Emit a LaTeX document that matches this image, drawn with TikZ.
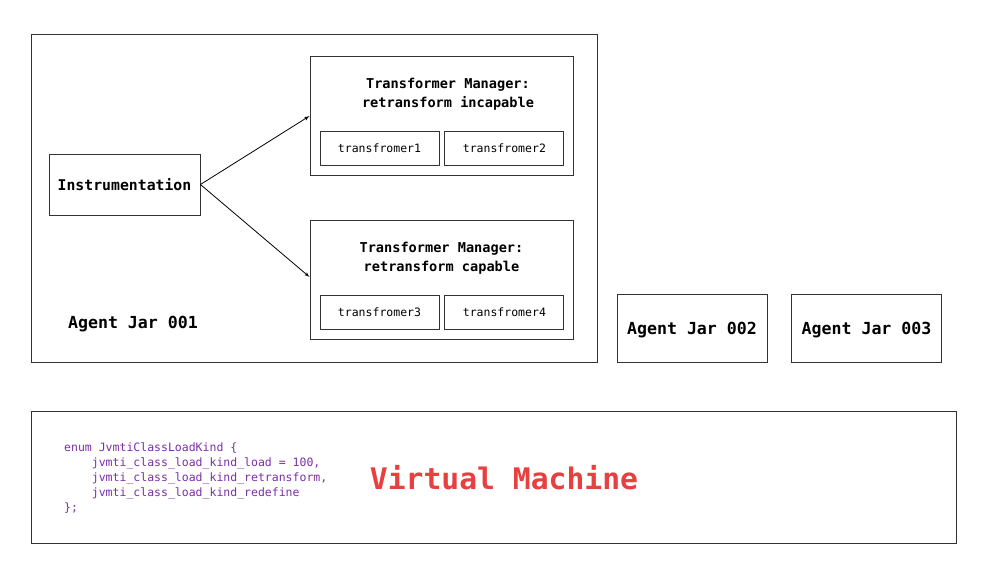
\documentclass[tikz,border=0pt]{standalone}
\usepackage{fontspec}
\setmainfont{DejaVu Sans Mono}
\setmonofont{DejaVu Sans Mono}
\usepackage{tikz}
\usetikzlibrary{arrows,positioning}
\definecolor{boxline}{HTML}{333333}
\definecolor{codepurple}{HTML}{7A2EA8}
\definecolor{vmred}{HTML}{E8403F}
\tikzstyle{frame} = [draw=boxline, line width=0.9pt, rectangle, inner sep=0pt]
\tikzstyle{block} = [frame, text centered, font=\bfseries\fontsize{14.8}{18}\selectfont]
\tikzstyle{jar} = [frame, text centered, font=\bfseries\fontsize{16.6}{20}\selectfont,
    minimum width=150pt, minimum height=68pt]
\tikzstyle{manager} = [frame, minimum width=263pt, minimum height=119pt]
\tikzstyle{title} = [align=center, inner sep=0pt, font=\bfseries\fontsize{13.6}{19}\selectfont]
\tikzstyle{worker} = [frame, minimum width=119pt, minimum height=34pt,
    font=\fontsize{11.5}{14}\selectfont]
\tikzset{
  line/.style ={draw=black, line width=0.8pt, -latex', shorten >=0pt}
}

\begin{document}
\begin{tikzpicture}[x=1pt, y=-1pt]
   \useasboundingbox (0,0) rectangle (988,576);
   % agent jar 001 with its managers
   \node [frame, minimum width=566pt, minimum height=328pt] (jar1) at (314,198) {};
   \node [block, minimum width=151pt, minimum height=61pt] (instr) at (124.5,184.5) {Instrumentation};
   \node [manager] (tm_incap) at (441.5,115.5) {};
   \node [title] (tm_incap_title) at (448,94.5) {Transformer Manager:\\retransform incapable};
   \node [worker] (tf1) at (379.5,148) {transfromer1};
   \node [worker,right=5pt of tf1] (tf2) {transfromer2};
   \node [manager] (tm_cap) at (441.5,279.5) {};
   \node [title] (tm_cap_title) at (441.5,258.5) {Transformer Manager:\\retransform capable};
   \node [worker] (tf3) at (379.5,312.5) {transfromer3};
   \node [worker,right=5pt of tf3] (tf4) {transfromer4};
   \node [font=\bfseries\fontsize{16.6}{20}\selectfont] (jar1_label) at (133,324) {Agent Jar 001};
   % other agents
   \node [jar, text depth=1pt, text height=14pt] (jar2) at (692,328) {Agent Jar 002};
   \node [jar, text depth=1pt, text height=14pt] (jar3) at (866.5,328) {Agent Jar 003};
   % virtual machine
   \node [frame, minimum width=925pt, minimum height=132pt] (vm) at (493.5,477) {};
   \node [anchor=west, align=left, inner sep=0pt, text=codepurple,
      font=\fontsize{11.5}{15}\selectfont] (enum) at (64,478.5)
      {enum JvmtiClassLoadKind \{\\
       \phantom{0000}jvmti\_class\_load\_kind\_load = 100,\\
       \phantom{0000}jvmti\_class\_load\_kind\_retransform,\\
       \phantom{0000}jvmti\_class\_load\_kind\_redefine\\
       \};};
   \node [text=vmred, font=\bfseries\fontsize{29.7}{34}\selectfont] (vm_label) at (504,478) {Virtual Machine};
   \path [line] (instr.east) -- (tm_incap.west |- 0,116);
   \path [line] (instr.east) -- (tm_cap.west |- 0,277);
\end{tikzpicture}
\end{document}
